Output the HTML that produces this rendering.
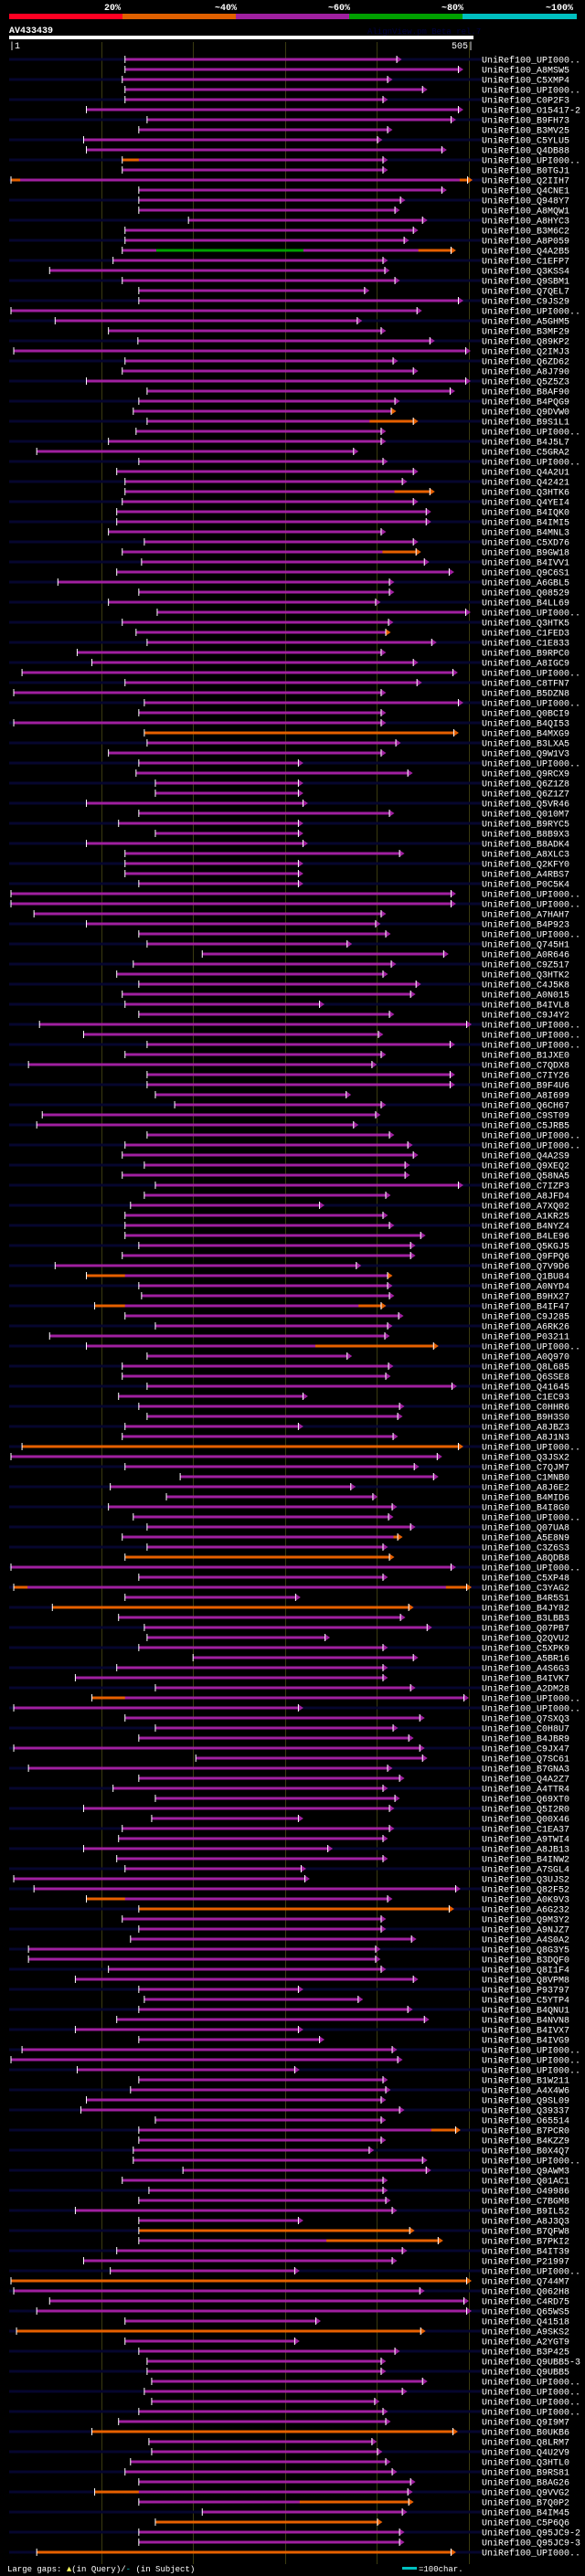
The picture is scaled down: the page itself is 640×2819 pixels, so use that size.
<!DOCTYPE html>
<html><head><meta charset="utf-8">
<style>
html,body{margin:0;padding:0;background:#000;}
body{width:640px;height:2819px;overflow:hidden;position:relative;}
svg{display:block;}
text{font-family:"Liberation Mono","DejaVu Sans Mono",monospace;}
</style></head>
<body>
<svg id="chart" width="640" height="2819" viewBox="0 0 640 2819" xmlns="http://www.w3.org/2000/svg">
  <g>
    <text x="123" y="11" fill="#fff" font-size="10" font-weight="bold" text-anchor="middle">20%</text>
    <text x="247" y="11" fill="#fff" font-size="10" font-weight="bold" text-anchor="middle">~40%</text>
    <text x="371" y="11" fill="#fff" font-size="10" font-weight="bold" text-anchor="middle">~60%</text>
    <text x="495" y="11" fill="#fff" font-size="10" font-weight="bold" text-anchor="middle">~80%</text>
    <text x="612" y="11" fill="#fff" font-size="10" font-weight="bold" text-anchor="middle">~100%</text>
    <rect x="10" y="15" width="124" height="6" fill="#ff0022"/>
    <rect x="134" y="15" width="124" height="6" fill="#e06000"/>
    <rect x="258" y="15" width="124" height="6" fill="#a020a0"/>
    <rect x="382" y="15" width="124" height="6" fill="#00a000"/>
    <rect x="506" y="15" width="125" height="6" fill="#00c0c0"/>
  </g>
  <text x="10" y="36" fill="#fff" font-size="10" font-weight="bold">AV433439</text>
  <text x="402" y="37" fill="#000040" font-size="9">AlignView.pm Beta rel.7</text>
  <rect x="10" y="39" width="508" height="4" fill="#fff"/>
  <text x="10" y="53" fill="#fff" font-size="10">|1</text>
  <text x="518" y="53" fill="#fff" font-size="10" text-anchor="end">505|</text>
  <g id="grid"></g>
  <g id="rows"></g>
  <text x="8" y="2814" fill="#fff" font-size="9">Large gaps: <tspan fill="#ffff60">▲</tspan>(in Query)/<tspan fill="#00c0c0">-</tspan> (in Subject)</text>
  <rect x="440" y="2809" width="16" height="3" fill="#00c0c0"/>
  <text x="458" y="2814" fill="#fff" font-size="9">=100char.</text>
</svg>
<script>
const names = ["UPI000..","A8MSW5","C5XMP4","UPI000..","C0P2F3","O15417-2","B9FH73","B3MV25","C5YLU5","Q4DB88","UPI000..","B0TGJ1","Q2IIH7","Q4CNE1","Q948Y7","A8MQW1","A8HYC3","B3M6C2","A8P059","Q4A2B5","C1EFP7","Q3KSS4","Q9SBM1","Q7QEL7","C9JS29","UPI000..","A5GHM5","B3MF29",
"Q89KP2","Q2IMJ3","Q6ZD62","A8J790","Q5Z5Z3","B8AF90","B4PQG9","Q9DVW0","B9S1L1","UPI000..","B4J5L7","C5GRA2","UPI000..","Q4A2U1","Q42421","Q3HTK6","Q4YEI4","B4IQK0","B4IMI5","B4MNL3","C5XD76","B9GW18","B4IVV1","Q9C6S1","A6GBL5","Q08529","B4LL69",
"UPI000..","Q3HTK5","C1FED3","C1E833","B9RPC0","A8IGC9","UPI000..","C8TFN7","B5DZN8","UPI000..","Q0BCI9","B4QI53","B4MXG9","B3LXA5","Q9W1V3","UPI000..","Q9RCX9","Q6Z1Z8","Q6Z1Z7","Q5VR46","Q010M7","B9RYC5","B8B9X3","B8ADK4","A8XLC3","Q2KFY0","A4RBS7","P0C5K4",
"UPI000..","UPI000..","A7HAH7","B4P923","UPI000..","Q745H1","A0R646","C9Z517","Q3HTK2","C4J5K8","A0N015","B4IVL8","C9J4Y2","UPI000..","UPI000..","UPI000..","B1JXE0","C7QDX8","C7IY26","B9F4U6","A8I699","Q6CH67","C9ST09","C5JRB5","UPI000..","UPI000..","Q4A2S9",
"Q9XEQ2","Q58NA5","C7IZP3","A8JFD4","A7XQ02","A1KR25","B4NYZ4","B4LE96","Q5KGJ5","Q9FPQ6","Q7V9D6","Q1BU84","A0NYD4","B9HX27","B4IF47","C9J285","A6RK26","P03211","UPI000..","A0Q970","Q8L685","Q6SSE8","Q41645","C1EC93","C0HHR6","B9H3S0","A8JBZ3",
"A8J1N3","UPI000..","Q3JSX2","C7QJM7","C1MNB0","A8J6E2","B4MID6","B4I8G0","UPI000..","Q07UA8","A5E8N9","C3Z6S3","A8QDB8","UPI000..","C5XP48","C3YAG2","B4R5S1","B4JY82","B3LBB3","Q07PB7","Q2QVU2","C5XPK9","A5BR16","A4S6G3","B4IVK7","A2DM28","UPI000..","UPI000..",
"Q7SXQ3","C0H8U7","B4JBR9","C9JX47","Q7SC61","B7GNA3","Q4A2Z7","A4TTR4","Q69XT0","Q5I2R0","Q00X46","C1EA37","A9TWI4","A8JB13","B4INW2","A7SGL4","Q3UJS2","Q82F52","A0K9V3","A6G232","Q9M3Y2","A9NJZ7","A4S0A2","Q8G3Y5","B3DQF0","Q8I1F4","Q8VPM8",
"P93797","C5YTP4","B4QNU1","B4NVN8","B4IVX7","B4IVG9","UPI000..","UPI000..","UPI000..","B1W211","A4X4W6","Q9SL09","Q39337","O65514","B7PCR0","B4KZZ9","B0X4Q7","UPI000..","Q9AWM3","Q01AC1","O49986","C7BGM8","B9IL52","A8J3Q3","B7QFW8","B7PKI2","B4IT39",
"P21997","UPI000..","Q744M7","Q062H8","C4RD75","Q65WS5","Q41518","A9SKS2","A2YGT9","B3P425","Q9UBB5-3","Q9UBB5","UPI000..","UPI000..","UPI000..","UPI000..","Q9I9M7","B0UKB6","Q8LRM7","Q4U2V9","Q3HTL0","B9RS81","B8AG26","Q9VVG2","B7Q0P2","B4IM45","C5P6Q6","Q95JC9-2","Q95JC9-3","UPI000.."];
const starts = [126,126,123,126,126,84,150,141,81,84,123,123,2,141,141,141,195,126,126,123,113,44,123,141,141,2,50,108,
140,5,126,123,84,150,141,135,150,138,108,30,141,117,126,126,123,117,117,108,147,123,144,117,53,141,108,
161,123,138,150,74,90,14,126,5,147,141,5,147,150,108,141,138,159,159,84,141,119,159,84,126,126,126,141,
2,2,27,84,141,150,210,135,117,141,123,126,141,33,81,150,126,21,150,150,159,180,36,30,150,126,123,
147,123,159,147,132,126,126,126,141,123,50,84,141,144,93,126,159,44,84,150,123,123,150,119,141,150,126,
123,14,2,126,186,110,171,108,135,150,123,150,126,2,141,5,126,47,119,147,150,141,200,117,72,159,90,5,
126,159,141,5,203,21,141,113,159,81,155,123,119,81,117,126,5,27,84,141,123,141,132,21,21,108,72,
141,147,141,117,72,141,14,2,74,141,132,84,78,159,141,141,135,135,189,123,152,141,72,141,141,141,117,
81,110,2,5,44,30,126,8,126,141,150,150,155,147,155,141,119,90,152,155,132,126,141,93,141,210,159,141,141,30];
const ends = [427,494,417,455,412,494,486,417,406,476,412,412,504,476,431,425,455,445,435,486,412,414,425,392,494,449,384,410,
463,502,423,445,502,485,425,421,445,410,410,380,412,445,433,463,445,459,459,410,445,448,457,484,419,419,404,
502,418,415,465,410,445,488,449,410,494,410,410,489,426,410,320,439,320,320,325,419,320,320,325,430,320,320,320,
486,486,410,404,415,373,478,421,412,448,442,343,419,503,407,485,410,400,485,485,372,410,404,380,419,439,445,
436,436,494,415,343,412,419,453,442,442,383,417,417,419,410,429,417,414,467,373,418,415,487,325,430,428,320,
423,494,471,446,467,377,401,422,418,442,428,412,419,486,412,503,317,440,431,460,349,412,445,412,412,442,500,320,
452,423,440,452,455,417,430,412,425,419,320,419,412,352,412,323,327,491,417,484,410,410,443,404,404,410,445,
320,385,439,457,320,343,422,428,316,412,415,410,430,410,491,410,397,455,459,412,412,415,422,320,441,472,433,
422,316,503,452,500,503,339,453,316,425,410,410,455,433,403,412,415,488,400,406,415,422,442,439,440,433,406,430,430,486];
const orangeRows = [68,139,150,155,185,217,222,227,237,246,249];
const orangeSegRow = [11,13,13,20,36,37,44,50,58,122,122,125,125,129,148,153,153,164,184,207,218,243,244];
const orangeSegFrom = [123,2,490,445,415,392,419,406,410,84,412,93,380,333,418,5,475,90,84,459,345,93,316];
const orangeSegTo = [141,12,504,486,421,445,463,448,415,126,417,126,410,467,428,20,503,126,126,491,472,141,440];
const greenSegRow = [20];
const greenSegFrom = [160];
const greenSegTo = [320];
const gridTicks = [100,200,300,400,500];

const NS = "http://www.w3.org/2000/svg";
const MAG = "#a020a0", ORA = "#e66000", GRN = "#00a000";
function xScale(r){ return 10 + r * 1.006; }
function yRow(i){ return 65 + 11 * i; }
function mk(tag, attrs){ const e = document.createElementNS(NS, tag); for (const k in attrs) e.setAttribute(k, attrs[k]); return e; }

const grid = document.getElementById('grid');
gridTicks.forEach(t => {
  const l = mk('rect', {x: Math.round(xScale(t)), y: 46, width: 1, height: 2760, fill: '#3a3a10'});
  
  
  grid.appendChild(l);
});

const rows = document.getElementById('rows');
names.forEach((nm, i) => {
  const y = yRow(i);
  const g = mk('g', {});
  
  
  if (i % 2 === 0) {
    const d = mk('rect', {x: 10, y: y - 1.5, width: 517, height: 3, fill: '#06062e'});
    
    
    g.appendChild(d);
  }
  const col = orangeRows.indexOf(i + 1) >= 0 ? ORA : MAG;
  const x0 = xScale(starts[i]), x1 = xScale(ends[i]);
  const bar = mk('rect', {x: x0, y: y - 1.5, width: Math.max(1, x1 - 6 - x0), height: 3, fill: col});
  
  
  g.appendChild(bar);
  orangeSegRow.forEach((r, k) => {
    if (r !== i + 1) return;
    const s = mk('rect', {x: xScale(orangeSegFrom[k]), y: y - 1.5, width: xScale(orangeSegTo[k]) - xScale(orangeSegFrom[k]) - (orangeSegTo[k] >= ends[i] - 1 ? 6 : 0), height: 3, fill: ORA});
    
    
    g.appendChild(s);
  });
  greenSegRow.forEach((r, k) => {
    if (r !== i + 1) return;
    const s = mk('rect', {x: xScale(greenSegFrom[k]), y: y - 1.5, width: xScale(greenSegTo[k]) - xScale(greenSegFrom[k]), height: 3, fill: GRN});
    
    
    g.appendChild(s);
  });
  let tipCol = col;
  orangeSegRow.forEach((r, k) => { if (r === i + 1 && orangeSegTo[k] >= ends[i] - 1) tipCol = ORA; });
  const tri = mk('polygon', {points: (x1 - 6) + ',' + (y - 4) + ' ' + x1 + ',' + y + ' ' + (x1 - 6) + ',' + (y + 4), fill: tipCol});
  
  
  g.appendChild(tri);
  const edge = mk('rect', {x: x1 - 6, y: y - 4, width: 1, height: 8, fill: '#fff'});
  
  
  g.appendChild(edge);
  const tick = mk('rect', {x: x0 - 0.5, y: y - 4, width: 1, height: 8, fill: '#fff'});
  
  
  g.appendChild(tick);
  const t = mk('text', {x: 527, y: y + 3.5, fill: '#fff', 'font-size': 10});
  t.textContent = 'UniRef100_' + nm;
  
  
  g.appendChild(t);
  rows.appendChild(g);
});
</script>
</body></html>
